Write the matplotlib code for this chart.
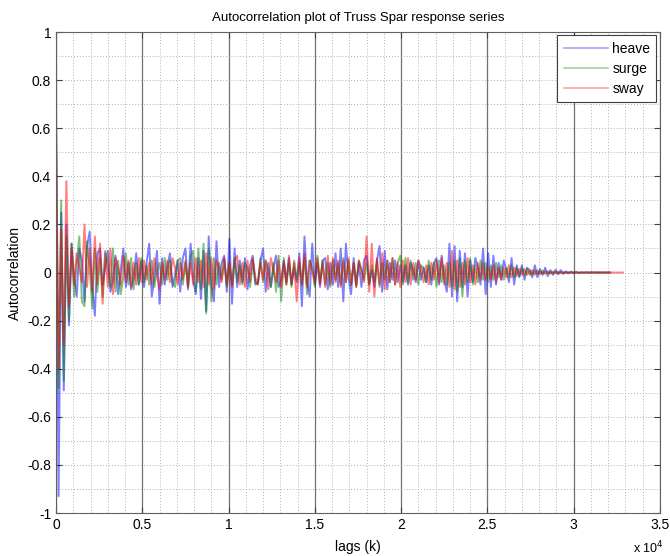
import numpy as np
import matplotlib
matplotlib.use("Agg")
import matplotlib.pyplot as plt
from matplotlib.ticker import MultipleLocator, FuncFormatter

plt.rcParams['font.family'] = ['Liberation Sans', 'DejaVu Sans']

LAG_STEP = 150

heave = [0.74, -0.93, 0.25, -0.49, 0.2, -0.22,
         0.12, -0.02, -0.1, 0.1, 0.05, -0.12, 0.11, 0.17, -0.06, -0.18, 0.08,
         0.1, -0.05, 0.02, 0.09, -0.08, -0.03, 0.07, -0.09, 0.01, 0.1, -0.06, 0.04, -0.07, -0.02, 0.08, -0.05, 0.05,
         -0.06, 0.04, 0.12, -0.1, -0.02, 0.09, -0.13, 0.06, -0.05, 0.02, 0.08, -0.06, -0.01, 0.05, -0.08, 0.06, 0.1, -0.07, 0.12, -0.03, -0.09, 0.06,
         -0.11, 0.09, -0.16, 0.15, -0.05, -0.12, 0.13, -0.06, 0.04, 0.07, -0.08, 0.14, -0.13, 0.1, -0.06,
         0.05, -0.04, 0.06, -0.07, 0.03, 0.07, -0.05, -0.04, 0.05, 0.1, -0.08, 0.04, -0.06, 0.02, 0.07, -0.06, -0.03, 0.05, -0.04, 0.06, -0.05, 0.02, -0.04,
         0.08, -0.14, 0.15, -0.04, -0.1, 0.12, -0.05, 0.04, -0.06, 0.05, 0.06, -0.07, 0.04, -0.05, 0.08, -0.06, 0.1,
         -0.12, 0.12, -0.02, -0.09, 0.06, -0.05, 0.04, -0.06, 0.05, 0.07, -0.05, 0.01, -0.06, 0.05, 0.11, -0.08, 0.09, -0.07, 0.04, -0.03, 0.05, -0.04, 0.03,
         -0.04, 0.03, -0.05, 0.04, 0.01, -0.04, 0.05, -0.03, 0.02, -0.04, 0.03, -0.05, 0.04, 0.06, -0.05, 0.07, -0.03, -0.08,
         0.12, -0.1, 0.11, -0.12, 0.09, -0.06, 0.08, -0.1, 0.05, -0.04, 0.06, 0.02, -0.05, 0.1, -0.09,
         0.08, -0.06, 0.07, -0.05, 0.04, -0.03, 0.05, 0.01, -0.04, 0.06, -0.05, 0.03, -0.02, 0.03, -0.03, 0.02, 0.01, -0.02, 0.03,
         -0.02, 0.015, -0.01, 0.02, -0.015, 0.01, -0.01, 0.012, -0.008, 0.01, -0.006, 0.005, -0.004, 0.004, -0.003,
         0.002, -0.002, 0.001, -0.001, 0.001, -0.001, 0.001, 0.0, 0.0, 0.0, 0.0, 0.0, 0.0, 0.0]

surge = [0.58, -0.48, 0.3, -0.45, 0.15, -0.2,
         0.12, -0.1, 0.04, 0.15, -0.12, -0.14, 0.13, 0.02, -0.15, 0.1, -0.08,
         0.06, -0.1, 0.09, 0.02, -0.06, 0.1, -0.08, 0.05, -0.09, -0.02, 0.08, -0.05, 0.06, -0.07, 0.04, -0.05, 0.06,
         -0.04, 0.03, -0.05, 0.05, -0.06, 0.01, 0.04, -0.05, 0.06, -0.03, 0.05, -0.04, -0.06, 0.05, 0.06, -0.05, 0.04, -0.06, 0.07, 0.09, -0.08, 0.1,
         -0.07, 0.12, -0.17, 0.1, -0.12, 0.06, -0.05, 0.04, -0.03, 0.05, -0.06, 0.04, -0.05, 0.06, -0.04,
         0.03, -0.05, 0.04, 0.02, -0.06, 0.05, -0.04, -0.05, 0.06, -0.04, 0.05, 0.01, -0.06, 0.04, -0.08, 0.07, -0.12, 0.06, -0.05, 0.04, -0.06, 0.05, -0.03,
         0.04, -0.05, 0.06, -0.09, 0.05, 0.02, -0.06, 0.07, -0.04, 0.05, -0.05, 0.04, -0.06, 0.05, -0.03, 0.04, -0.05,
         0.06, -0.04, 0.05, -0.05, 0.04, -0.06, 0.05, 0.01, -0.03, 0.04, -0.05, 0.03, -0.04, 0.05, -0.06, 0.04, -0.03, 0.05, -0.04, 0.06, -0.05, 0.04, 0.07,
         -0.05, 0.06, -0.04, 0.05, -0.03, 0.04, -0.05, 0.03, 0.02, -0.04, 0.05, -0.03, 0.04, -0.06, 0.05, -0.04, 0.03, -0.05,
         0.04, -0.06, 0.05, -0.08, 0.06, -0.1, 0.05, -0.04, 0.06, -0.05, 0.03, -0.04, 0.05, -0.03, 0.04,
         -0.04, 0.03, -0.03, 0.04, -0.02, 0.03, -0.03, 0.02, -0.02, 0.03, -0.02, 0.02, -0.015, 0.02, -0.01, 0.015, -0.01, 0.01, -0.01,
         0.01, -0.008, 0.008, -0.006, 0.006, -0.005, 0.004, -0.004, 0.003, -0.003, 0.002, -0.002, 0.002, -0.001, 0.001,
         0.001, -0.001, 0.0, 0.0, 0.0, 0.0, 0.0, 0.0, 0.0, 0.0, 0.0, 0.0, 0.0, 0.0]

sway = [0.61, -0.4, 0.18, -0.3, 0.38, -0.14,
        0.1, -0.05, 0.08, 0.02, -0.04, 0.2, -0.06, 0.1, -0.08, 0.15, -0.05,
        0.12, -0.13, 0.08, -0.06, 0.1, -0.09, 0.06, 0.02, -0.05, 0.07, -0.04, 0.05, -0.06, 0.04, -0.05, 0.06, -0.04,
        0.05, -0.03, 0.04, -0.05, 0.06, -0.01, -0.07, 0.04, -0.03, 0.05, -0.04, 0.06, 0.02, -0.05, 0.04, -0.03, 0.05, -0.06, 0.04, -0.05, 0.06, -0.04,
        0.05, -0.06, 0.08, -0.05, 0.06, -0.07, 0.05, 0.02, -0.04, 0.06, -0.05, 0.04, -0.06, 0.05, 0.07,
        -0.05, 0.04, -0.06, 0.05, -0.04, 0.06, -0.02, -0.05, 0.04, -0.03, 0.05, -0.07, 0.06, 0.01, -0.04, 0.05, -0.06, 0.04, -0.05, 0.07, -0.05, 0.04, -0.12,
        0.06, -0.05, 0.08, -0.06, 0.05, 0.01, -0.04, 0.06, -0.05, 0.04, -0.06, 0.07, -0.05, 0.06, -0.04, 0.05, -0.06,
        0.05, -0.04, 0.06, -0.05, 0.04, -0.06, 0.05, 0.01, -0.04, 0.15, -0.08, 0.12, -0.1, 0.06, -0.05, 0.08, -0.07, 0.05, -0.04, 0.06, -0.05, 0.04, -0.06,
        0.05, -0.04, 0.06, -0.05, 0.04, -0.03, 0.05, 0.02, -0.04, 0.03, -0.05, 0.04, -0.03, 0.05, -0.04, 0.06, -0.05, 0.04,
        -0.06, 0.09, -0.07, 0.05, -0.06, 0.04, -0.05, 0.06, -0.04, 0.03, -0.05, 0.04, -0.03, 0.04, -0.03,
        0.02, -0.03, 0.03, -0.04, 0.02, -0.03, 0.02, -0.02, 0.03, -0.02, 0.02, -0.015, 0.015, -0.01, 0.015, -0.01, 0.01, -0.008, 0.008,
        -0.006, 0.006, -0.005, 0.005, -0.004, 0.004, -0.003, 0.003, -0.002, 0.002, -0.002, 0.001, -0.001, 0.001, -0.001,
        0.001, 0.0, 0.0, 0.0, 0.0, 0.0, 0.0, 0.0, 0.0, 0.0, 0.0, 0.0, 0.0, 0.0, 0.0, 0.0, 0.0, 0.0, 0.0]

series_names = ["heave", "surge", "sway"]
series_values = [heave, surge, sway]
series_colors = ["#0000ff", "#008000", "#ff0000"]

x_ticks = [0, 5000, 10000, 15000, 20000, 25000, 30000, 35000]
y_ticks = [-1, -0.8, -0.6, -0.4, -0.2, 0, 0.2, 0.4, 0.6, 0.8, 1]

fig = plt.figure(figsize=(6.70, 5.56), dpi=100)
ax = fig.add_axes([0.0836, 0.0773, 0.9014, 0.8651])

for name, vals, col in zip(series_names, series_values, series_colors):
    lags = np.arange(len(vals)) * LAG_STEP
    ax.plot(lags, vals, color=col, lw=1.4, alpha=0.5, label=name)

ax.set_xlim(0, 35000)
ax.set_ylim(-1, 1)
ax.set_xticks(x_ticks)
ax.set_yticks(y_ticks)
ax.xaxis.set_minor_locator(MultipleLocator(1000))
ax.yaxis.set_minor_locator(MultipleLocator(0.1))
ax.xaxis.set_major_formatter(FuncFormatter(lambda v, p: f"{v/1e4:g}"))
ax.yaxis.set_major_formatter(FuncFormatter(lambda v, p: f"{v:g}"))

ax.grid(True, which='major', axis='x', color='#707070', linestyle='-', lw=0.9)
ax.grid(True, which='minor', axis='x', color='#b0b0b0', linestyle=(0, (1, 2)), lw=0.7)
ax.grid(True, which='both', axis='y', color='#b0b0b0', linestyle=(0, (1, 2)), lw=0.7)
ax.set_axisbelow(True)

ax.tick_params(which='both', direction='in', top=True, right=True, labelsize=10, colors='#404040', labelcolor='black')
ax.tick_params(which='major', length=4)
ax.tick_params(which='minor', length=0)
for s in ax.spines.values():
    s.set_color('#606060')
    s.set_linewidth(0.8)

ax.set_title("Autocorrelation plot of Truss Spar response series", fontsize=9.5, pad=8)
ax.set_xlabel("lags (k)", fontsize=10, labelpad=6)
ax.set_ylabel("Autocorrelation", fontsize=10, labelpad=4)
fig.text(0.968, 0.0, r"x 10$^{4}$", fontsize=9, ha='center', va='bottom')

leg = ax.legend(loc='upper right', fontsize=10, fancybox=False, framealpha=1,
                edgecolor='#404040', borderaxespad=0.25, handlelength=3.2,
                handletextpad=0.3, borderpad=0.45, labelspacing=0.45)
leg.get_frame().set_linewidth(0.8)
for h in leg.get_lines():
    h.set_alpha(0.4)
    h.set_linewidth(1.1)

fig.savefig("out.png", dpi=100)
